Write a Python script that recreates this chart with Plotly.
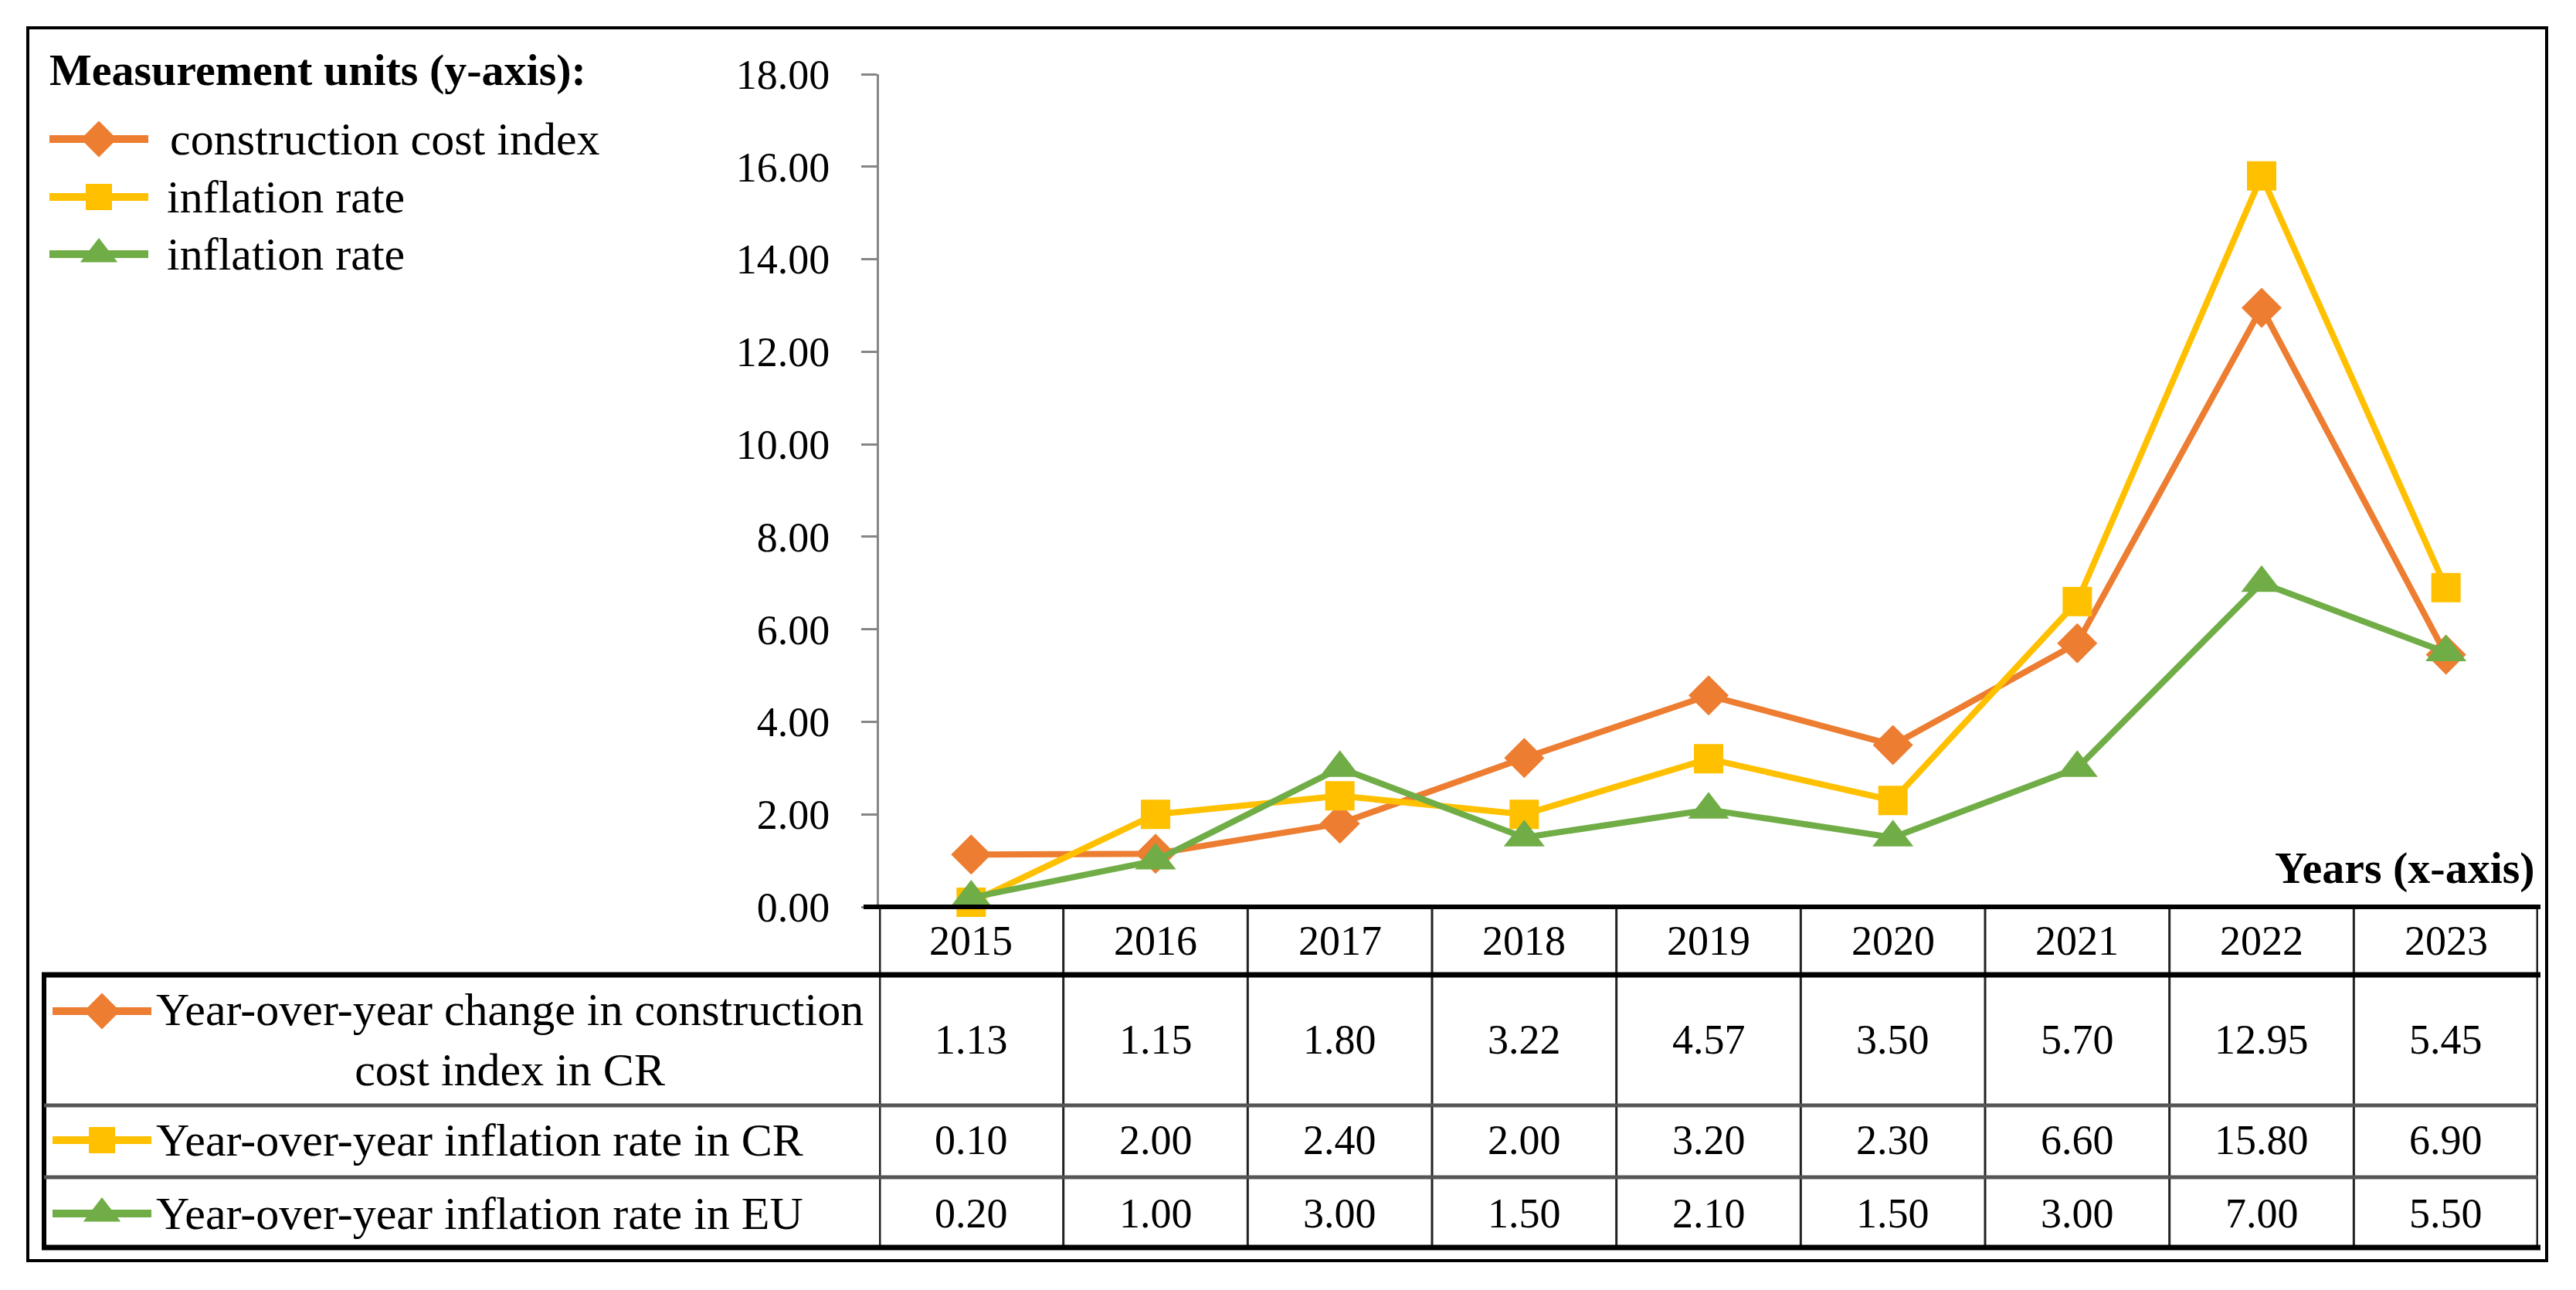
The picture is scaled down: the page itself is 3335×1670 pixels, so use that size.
import plotly.graph_objects as go

W, H = 3335, 1670

years = ["2015", "2016", "2017", "2018", "2019", "2020", "2021", "2022", "2023"]
construction_cost = [1.13, 1.15, 1.80, 3.22, 4.57, 3.50, 5.70, 12.95, 5.45]
inflation_cr = [0.10, 2.00, 2.40, 2.00, 3.20, 2.30, 6.60, 15.80, 6.90]
inflation_eu = [0.20, 1.00, 3.00, 1.50, 2.10, 1.50, 3.00, 7.00, 5.50]

legend_labels = ["construction cost index", "inflation rate", "inflation rate"]
table_labels = ["Year-over-year change in construction<br>cost index in CR",
                "Year-over-year inflation rate in CR",
                "Year-over-year inflation rate in EU"]
y_title = "Measurement units (y-axis):"
x_title = "Years (x-axis)"

colors = ["#ED7D31", "#FFC000", "#70AD47"]
symbols = ["diamond", "square", "triangle-up"]
marker_sizes = [40, 38, 46]
glyph_sizes = [36, 34, 42]
series = [construction_cost, inflation_cr, inflation_eu]

FONT = "Liberation Serif"
FS_NUM = 54
FS_TXT = 60
FS_BOLD = 58

# page offset (browser body margin)
OFF = 8

# layout geometry (screen pixels)
PX0, PX1 = 1138, 3286   # plot / table columns
PY_TOP, PY_BOT = 96, 1174  # y range 18 -> 0
ROW_EDGES = [1174, 1262, 1431, 1524, 1615]
TABLE_LEFT = 57


def fx(x):
    return (x - OFF) / W


def fy(y):
    return 1 - (y - OFF) / H


fig = go.Figure()

for s, c, sym, ms in zip(series, colors, symbols, marker_sizes):
    fig.add_trace(go.Scatter(
        x=list(range(len(years))), y=s, mode="lines+markers",
        line=dict(color=c, width=8),
        marker=dict(symbol=sym, size=ms, color=c),
        cliponaxis=False, showlegend=False, hoverinfo="skip",
        xaxis="x", yaxis="y"))

# legend glyphs (top-left) and table glyphs, drawn in a pixel-space overlay axis
legend_y = [180, 255, 329]
table_glyph_y = [1309, 1476, 1571]
for i, (c, sym) in enumerate(zip(colors, symbols)):
    ms = glyph_sizes[i]
    for (xa, xb, yy, lw) in [(64, 192, legend_y[i], 10), (68, 196, table_glyph_y[i], 10)]:
        fig.add_trace(go.Scatter(x=[xa - OFF, xb - OFF], y=[yy - OFF, yy - OFF], mode="lines",
                                 line=dict(color=c, width=lw), showlegend=False,
                                 hoverinfo="skip", xaxis="x2", yaxis="y2"))
        fig.add_trace(go.Scatter(x=[(xa + xb) / 2 - OFF], y=[yy - OFF], mode="markers",
                                 marker=dict(symbol=sym, size=ms, color=c),
                                 showlegend=False, hoverinfo="skip", cliponaxis=False,
                                 xaxis="x2", yaxis="y2"))

annotations = []
# legend texts
annotations.append(dict(text="<b>" + y_title + "</b>", x=fx(62), y=fy(91), xref="paper", yref="paper",
                        xanchor="left", yanchor="middle", showarrow=False,
                        font=dict(family=FONT, size=FS_BOLD, color="black")))
legend_x = [218, 214, 214]
for i, lab in enumerate(legend_labels):
    annotations.append(dict(text=lab, x=fx(legend_x[i]), y=fy(legend_y[i]), xref="paper", yref="paper",
                            xanchor="left", yanchor="middle", showarrow=False,
                            font=dict(family=FONT, size=FS_TXT, color="black")))
annotations.append(dict(text="<b>" + x_title + "</b>", x=fx(3284), y=fy(1123), xref="paper", yref="paper",
                        xanchor="right", yanchor="middle", showarrow=False,
                        font=dict(family=FONT, size=FS_BOLD, color="black")))

# table: years header
row_centers = [1218, 1346, 1476, 1571]
for i, yr in enumerate(years):
    annotations.append(dict(text=yr, x=i, y=fy(row_centers[0]), xref="x", yref="paper",
                            xanchor="center", yanchor="middle", showarrow=False,
                            font=dict(family=FONT, size=FS_NUM, color="black")))
    for r, s in enumerate(series):
        annotations.append(dict(text=f"{s[i]:.2f}", x=i, y=fy(row_centers[r + 1]), xref="x", yref="paper",
                                xanchor="center", yanchor="middle", showarrow=False,
                                font=dict(family=FONT, size=FS_NUM, color="black")))
# table row labels
annotations.append(dict(text=table_labels[0], x=fx(200), y=fy(1346), xref="paper", yref="paper",
                        xanchor="left", yanchor="middle", align="center", showarrow=False,
                        font=dict(family=FONT, size=FS_TXT, color="black")))
for r in (1, 2):
    annotations.append(dict(text=table_labels[r], x=fx(200), y=fy(row_centers[r + 1]), xref="paper", yref="paper",
                            xanchor="left", yanchor="middle", showarrow=False,
                            font=dict(family=FONT, size=FS_TXT, color="black")))

shapes = []
# outer frame
shapes.append(dict(type="rect", xref="paper", yref="paper", x0=fx(36), x1=fx(3297), y0=fy(36), y1=fy(1632),
                   line=dict(color="black", width=4), layer="below"))
# vertical column lines
for k in range(len(years) + 1):
    shapes.append(dict(type="line", xref="x", yref="paper", x0=k - 0.5, x1=k - 0.5,
                       y0=fy(ROW_EDGES[0]), y1=fy(ROW_EDGES[-1]),
                       line=dict(color="#222222", width=5 if k in (0, len(years)) else 3)))
# left edge of the label column
shapes.append(dict(type="line", xref="paper", yref="paper", x0=fx(TABLE_LEFT), x1=fx(TABLE_LEFT),
                   y0=fy(ROW_EDGES[1]), y1=fy(ROW_EDGES[-1]), line=dict(color="black", width=6)))
# header top (x-axis baseline)
shapes.append(dict(type="line", xref="paper", yref="paper", x0=fx(1118), x1=fx(PX1 + 3),
                   y0=fy(ROW_EDGES[0]), y1=fy(ROW_EDGES[0]), line=dict(color="black", width=6)))
# header bottom (thick)
shapes.append(dict(type="line", xref="paper", yref="paper", x0=fx(TABLE_LEFT - 3), x1=fx(PX1 + 3),
                   y0=fy(ROW_EDGES[1]), y1=fy(ROW_EDGES[1]), line=dict(color="black", width=7)))
# inner row lines (grey)
for e in ROW_EDGES[2:4]:
    shapes.append(dict(type="line", xref="paper", yref="paper", x0=fx(TABLE_LEFT), x1=fx(PX1),
                       y0=fy(e), y1=fy(e), line=dict(color="#555555", width=5)))
# bottom (thick)
shapes.append(dict(type="line", xref="paper", yref="paper", x0=fx(TABLE_LEFT - 3), x1=fx(PX1 + 3),
                   y0=fy(ROW_EDGES[-1]), y1=fy(ROW_EDGES[-1]), line=dict(color="black", width=7)))

fig.update_layout(
    width=W, height=H, autosize=False,
    margin=dict(l=0, r=0, t=0, b=0, pad=0, autoexpand=False),
    paper_bgcolor="white", plot_bgcolor="rgba(0,0,0,0)",
    showlegend=False,
    xaxis=dict(domain=[fx(PX0), fx(PX1)], range=[-0.5, len(years) - 0.5], visible=False,
               fixedrange=True, automargin=False),
    yaxis=dict(domain=[fy(PY_BOT), fy(PY_TOP)], range=[0, 18], dtick=2, tickformat=".2f",
               showgrid=False, zeroline=False, showline=True, linecolor="#868686", linewidth=3,
               ticks="outside", ticklen=20, tickwidth=3, tickcolor="#868686",
               ticklabelstandoff=30, automargin=False,
               tickfont=dict(family=FONT, size=FS_NUM, color="black"), anchor="x"),
    xaxis2=dict(domain=[0, 1], range=[0, W], visible=False, anchor="y2", automargin=False),
    yaxis2=dict(domain=[0, 1], range=[H, 0], visible=False, anchor="x2", automargin=False),
    annotations=annotations, shapes=shapes,
)

fig.write_html("out.html")
